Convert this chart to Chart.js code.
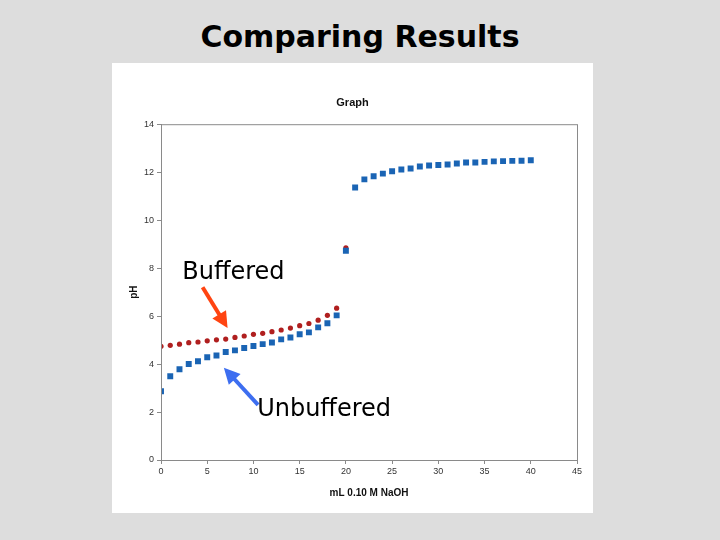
<!DOCTYPE html>
<html>
<head>
<meta charset="utf-8">
<script src="https://cdn.jsdelivr.net/npm/chart.js@4.4.1/dist/chart.umd.min.js"></script>
<style>
  html, body { margin: 0; padding: 0; }
  body { width: 720px; height: 540px; background: #dddddd; position: relative; overflow: hidden; }
  #slideTitle { position: absolute; left: 0; top: 19px; width: 720px; text-align: center;
    font-family: "Comic Sans MS", "DejaVu Sans", sans-serif; font-size: 30px; font-weight: bold; color: #000; }
  #box { position: absolute; left: 112px; top: 63px; width: 481px; height: 450px; background: #fff; }
</style>
</head>
<body>
<div id="slideTitle">Comparing Results</div>
<div id="box"><canvas id="myChart" width="481" height="450"></canvas></div>
<script>
// mL of NaOH added
var unbufferedVol = [0,1,2,3,4,5,6,7,8,9,10,11,12,13,14,15,16,17,18,19,20,21,22,23,24,25,26,27,28,29,30,31,32,33,34,35,36,37,38,39,40];
var unbufferedPH = [2.87,3.49,3.78,4.0,4.12,4.28,4.36,4.5,4.57,4.67,4.75,4.83,4.9,5.03,5.11,5.24,5.32,5.53,5.7,6.03,8.72,11.36,11.7,11.83,11.94,12.04,12.11,12.15,12.24,12.28,12.3,12.32,12.36,12.4,12.4,12.43,12.45,12.46,12.47,12.48,12.5];
var bufferedVol = [0,1,2,3,4,5,6,7,8,9,10,11,12,13,14,15,16,17,18,19,20];
var bufferedPH = [4.74,4.78,4.83,4.89,4.92,4.97,5.01,5.04,5.11,5.17,5.24,5.28,5.35,5.42,5.5,5.6,5.69,5.83,6.03,6.33,8.85];
var xTicks = [0,5,10,15,20,25,30,35,40,45];
var yTicks = [0,2,4,6,8,10,12,14];

var toPoints = function(xs, ys) {
    return xs.map(function(x, i) { return { x: x, y: ys[i] }; });
};

// labels + arrows, anchored in data units
var notes = [
    { text: 'Buffered', x: 2.3, y: 7.8, from: [4.5, 7.2], to: [7.2, 5.5], color: '#ff4411' },
    { text: 'Unbuffered', x: 10.4, y: 2.08, from: [10.5, 2.3], to: [6.8, 3.85], color: '#3d6ef0' }
];

var frameAndNotes = {
    id: 'frameAndNotes',
    afterDraw: function(chart) {
        var ctx = chart.ctx, a = chart.chartArea;
        var xs = chart.scales.x, ys = chart.scales.y;
        ctx.save();
        ctx.strokeStyle = '#8a8a8a';
        ctx.lineWidth = 1;
        ctx.strokeRect(a.left + 0.5, a.top + 0.5, a.right - a.left, a.bottom - a.top);
        notes.forEach(function(n) {
            var x1 = xs.getPixelForValue(n.from[0]), y1 = ys.getPixelForValue(n.from[1]);
            var x2 = xs.getPixelForValue(n.to[0]), y2 = ys.getPixelForValue(n.to[1]);
            var ang = Math.atan2(y2 - y1, x2 - x1);
            ctx.strokeStyle = n.color;
            ctx.fillStyle = n.color;
            ctx.lineWidth = 4;
            ctx.beginPath();
            ctx.moveTo(x1, y1);
            ctx.lineTo(x2 - 10 * Math.cos(ang), y2 - 10 * Math.sin(ang));
            ctx.stroke();
            ctx.beginPath();
            ctx.moveTo(x2, y2);
            ctx.lineTo(x2 - 16 * Math.cos(ang) + 8 * Math.sin(ang), y2 - 16 * Math.sin(ang) - 8 * Math.cos(ang));
            ctx.lineTo(x2 - 16 * Math.cos(ang) - 8 * Math.sin(ang), y2 - 16 * Math.sin(ang) + 8 * Math.cos(ang));
            ctx.closePath();
            ctx.fill();
            ctx.fillStyle = '#000';
            ctx.font = '24px "Comic Sans MS", "DejaVu Sans", sans-serif';
            ctx.textBaseline = 'middle';
            ctx.textAlign = 'left';
            ctx.fillText(n.text, xs.getPixelForValue(n.x), ys.getPixelForValue(n.y));
        });
        ctx.restore();
    }
};

Chart.defaults.font.family = 'Arial, "Liberation Sans", sans-serif';
Chart.defaults.color = '#333';

var myChart = new Chart(document.getElementById('myChart'), {
    type: 'scatter',
    data: {
        datasets: [{
            label: 'Unbuffered',
            data: toPoints(unbufferedVol, unbufferedPH),
            pointStyle: 'rect',
            pointRadius: 4.2,
            borderWidth: 0,
            backgroundColor: '#1a64b4',
            borderColor: '#1a64b4'
        }, {
            label: 'Buffered',
            data: toPoints(bufferedVol, bufferedPH),
            pointStyle: 'circle',
            pointRadius: 2.6,
            borderWidth: 0,
            backgroundColor: '#b01f1f',
            borderColor: '#b01f1f'
        }]
    },
    options: {
        responsive: false,
        animation: false,
        layout: { padding: { top: 19, right: 16, left: 16, bottom: 10 } },
        plugins: {
            legend: { display: false },
            tooltip: { enabled: false },
            title: { display: true, text: 'Graph', color: '#111', font: { size: 11, weight: 'bold' }, padding: { top: 14, bottom: 15 } }
        },
        scales: {
            x: {
                type: 'linear', min: 0, max: 45,
                afterBuildTicks: function(s) { s.ticks = xTicks.map(function(v) { return { value: v }; }); },
                ticks: { font: { size: 9 }, padding: 2, maxRotation: 0 },
                grid: { drawOnChartArea: false, tickLength: 4, tickColor: '#8a8a8a' },
                border: { color: '#8a8a8a' },
                title: { display: true, text: 'mL 0.10 M NaOH', font: { size: 10, weight: 'bold' }, color: '#111', padding: { top: 4 } },
                afterFit: function(s) { s.height = 43; }
            },
            y: {
                type: 'linear', min: 0, max: 14,
                afterBuildTicks: function(s) { s.ticks = yTicks.map(function(v) { return { value: v }; }); },
                ticks: { font: { size: 9 }, padding: 3 },
                grid: { drawOnChartArea: false, tickLength: 4, tickColor: '#8a8a8a' },
                border: { color: '#8a8a8a' },
                title: { display: true, text: 'pH', font: { size: 10, weight: 'bold' }, color: '#111', padding: 0 },
                afterFit: function(s) { s.width = 33; }
            }
        }
    },
    plugins: [frameAndNotes]
});
</script>
</body>
</html>
